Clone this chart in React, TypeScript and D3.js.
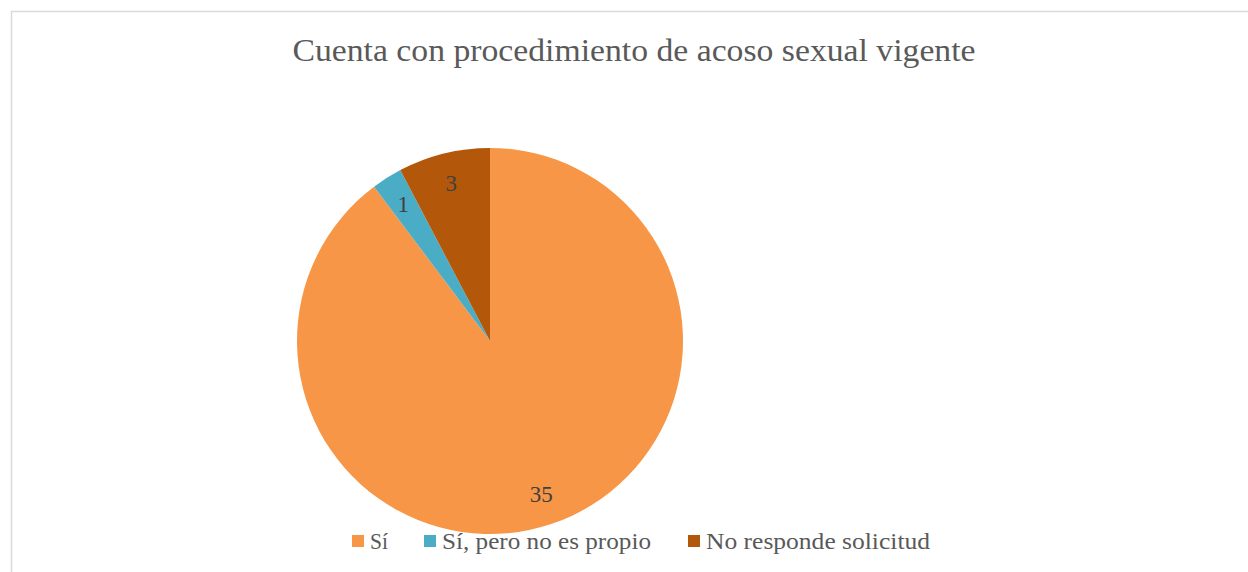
import * as d3 from "d3";
import { useEffect, useRef } from "react";

const categories = ["Sí", "Sí, pero no es propio", "No responde solicitud"];
const values = [35, 1, 3];
const colors = ["#F79646", "#4BACC6", "#B3580A"];
const title = "Cuenta con procedimiento de acoso sexual vigente";

export default function App() {
  const ref = useRef<SVGSVGElement>(null);

  useEffect(() => {
    if (!ref.current) return;
    const svg = d3.select(ref.current);
    svg.selectAll("*").remove();

    const width = 1248,
      height = 572;
    const cx = 490,
      cy = 341,
      radius = 193;
    const font = "'Liberation Serif', serif";

    svg.attr("width", width).attr("height", height);

    // chart frame (runs off the right and bottom edge)
    svg
      .append("rect")
      .attr("x", 11.5)
      .attr("y", 11.5)
      .attr("width", width + 20)
      .attr("height", height + 20)
      .attr("fill", "#fff")
      .attr("stroke", "#d9d9d9")
      .attr("stroke-width", 1.5);

    svg
      .append("text")
      .attr("x", 634)
      .attr("y", 61)
      .attr("text-anchor", "middle")
      .attr("fill", "#595959")
      .attr("font-family", font)
      .attr("font-size", "31px")
      .attr("textLength", 683)
      .attr("lengthAdjust", "spacingAndGlyphs")
      .text(title);

    const data = categories.map((c, i) => ({ c, v: values[i], color: colors[i] }));
    const pie = d3
      .pie<{ c: string; v: number; color: string }>()
      .value((d) => d.v)
      .sort(null);
    const arcs = pie(data);
    const arc = d3
      .arc<d3.PieArcDatum<{ c: string; v: number; color: string }>>()
      .innerRadius(0)
      .outerRadius(radius);
    const labelArc = d3
      .arc<d3.PieArcDatum<{ c: string; v: number; color: string }>>()
      .innerRadius(radius * 0.84)
      .outerRadius(radius * 0.84);

    const g = svg.append("g").attr("transform", `translate(${cx},${cy})`);
    g.selectAll("path")
      .data(arcs)
      .enter()
      .append("path")
      .attr("d", arc)
      .attr("fill", (d) => d.data.color);

    g.selectAll("text")
      .data(arcs)
      .enter()
      .append("text")
      .attr("transform", (d) => `translate(${labelArc.centroid(d)})`)
      .attr("text-anchor", "middle")
      .attr("dy", "0.33em")
      .attr("fill", "#404040")
      .attr("font-family", font)
      .attr("font-size", "23px")
      .text((d) => d.data.v);

    // legend
    const legendX = [352, 424, 688];
    const legendW = [18, 209, 224];
    const lg = svg.append("g");
    data.forEach((d, i) => {
      lg.append("rect")
        .attr("x", legendX[i])
        .attr("y", 535)
        .attr("width", 12)
        .attr("height", 12)
        .attr("fill", d.color);
      lg.append("text")
        .attr("x", legendX[i] + 18)
        .attr("y", 549)
        .attr("fill", "#595959")
        .attr("font-family", font)
        .attr("font-size", "23px")
        .attr("textLength", legendW[i])
        .attr("lengthAdjust", "spacingAndGlyphs")
        .text(d.c);
    });
  }, []);

  return (
    <svg
      ref={ref}
      style={{ position: "absolute", left: 0, top: 0, display: "block" }}
    />
  );
}
